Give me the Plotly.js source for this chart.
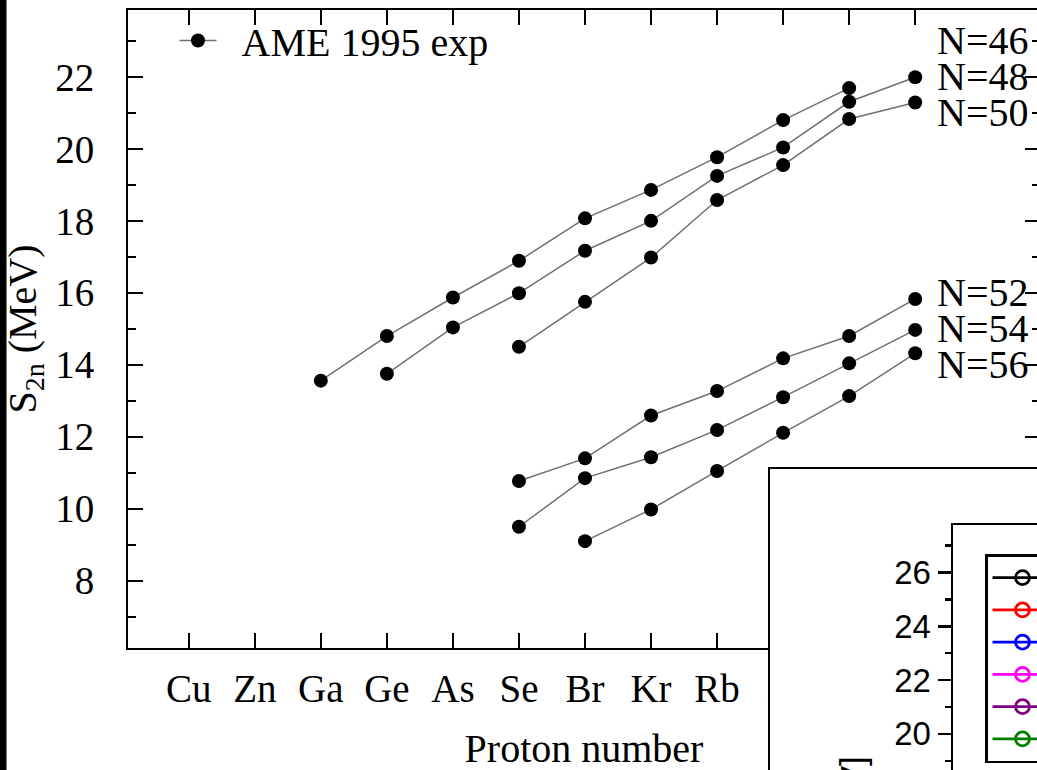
<!DOCTYPE html>
<html><head><meta charset="utf-8">
<script src="https://cdn.plot.ly/plotly-3.0.1.min.js"></script>
<style>
html,body{margin:0;padding:0;overflow:hidden;background:#fff}
#wrap{width:1037px;height:770px;overflow:hidden;position:relative}
#chart{width:1060px;height:900px}
</style>
</head><body><div id="wrap"><div id="chart"></div></div>
<script>
// ---- data ----
const elements = ['Cu','Zn','Ga','Ge','As','Se','Br','Kr','Rb','Sr','Y','Zr'];
const protonNumbers = [29,30,31,32,33,34,35,36,37,38,39,40];

const zN46 = [31,32,33,34,35,36,37,38,39];
const s2nN46 = [13.56,14.80,15.87,16.89,18.07,18.86,19.77,20.80,21.69];
const zN48 = [32,33,34,35,36,37,38,39,40];
const s2nN48 = [13.75,15.04,15.99,17.17,18.00,19.25,20.04,21.31,21.99];
const zN50 = [34,35,36,37,38,39,40];
const s2nN50 = [14.50,15.75,16.98,18.58,19.55,20.83,21.29];
const zN52 = [34,35,36,37,38,39,40];
const s2nN52 = [10.77,11.40,12.59,13.27,14.18,14.80,15.83];
const zN54 = [34,35,36,37,38,39,40];
const s2nN54 = [9.50,10.85,11.43,12.19,13.10,14.04,14.97];
const zN56 = [35,36,37,38,39,40];
const s2nN56 = [9.10,9.98,11.05,12.11,13.13,14.32];

const chainLabels = ['N=46','N=48','N=50','N=52','N=54','N=56'];
const legendName = '\u00a0\u00a0AME 1995 exp';

// inset: only the legend symbols are visible, the data lie outside the crop (unknown)
const insetNames = ['Series 1','Series 2','Series 3','Series 4','Series 5','Series 6'];
const insetColors = ['#000000','#ff0000','#0000ff','#ff00ff','#800080','#008000'];
const unknown = [null];

// ---- layout helpers ----
const W = 1060, H = 900;
const px = x => x / W;
const py = y => 1 - y / H;
const labelAnchorY = [23,22,21,16,15,14];
const serif = 'Liberation Serif, Times New Roman, serif';
const sans = 'Liberation Sans, Arial, sans-serif';

const chains = [[zN46,s2nN46],[zN48,s2nN48],[zN50,s2nN50],[zN52,s2nN52],[zN54,s2nN54],[zN56,s2nN56]];
const traces = chains.map((c,i) => ({
  x: c[0], y: c[1], type: 'scatter', mode: 'lines+markers',
  name: legendName, legendgroup: 'ame', showlegend: i === 0,
  line: {color: '#707070', width: 1.5},
  marker: {color: '#000', size: 14},
  xaxis: 'x', yaxis: 'y', legend: 'legend'
}));
// frame of the inset picture
traces.push({x: unknown, y: unknown, type: 'scatter', mode: 'markers', showlegend: false,
  xaxis: 'x2', yaxis: 'y2', hoverinfo: 'skip'});
insetNames.forEach((n,i) => traces.push({
  x: unknown, y: unknown, type: 'scatter', mode: 'lines+markers', name: n,
  xaxis: 'x3', yaxis: 'y3', legend: 'legend2',
  line: {color: insetColors[i], width: 2.8},
  marker: {color: insetColors[i], size: 14, symbol: 'circle-open', line: {color: insetColors[i], width: 2.8}}
}));

const annotations = chainLabels.map((t,i) => ({
  xref: 'x', yref: 'y', x: 40.3, y: labelAnchorY[i], text: t, showarrow: false,
  xanchor: 'left', yanchor: 'middle', font: {family: serif, size: 40, color: '#000'}
}));
annotations.push({
  xref: 'paper', yref: 'paper', x: px(855), y: py(754), text: 'S<sub>2n</sub> [MeV]',
  textangle: -90, showarrow: false, xanchor: 'center', yanchor: 'top',
  font: {family: sans, size: 35, color: '#000'}
});

const layout = {
  width: W, height: H,
  margin: {l: 0, r: 0, t: 0, b: 0, autoexpand: false},
  paper_bgcolor: '#fff', plot_bgcolor: '#fff',
  font: {family: serif, color: '#000'},
  xaxis: {
    domain: [px(128), px(1040)], range: [28.08, 41.89], anchor: 'y',
    tickvals: protonNumbers, ticktext: elements,
    ticks: 'inside', ticklen: 15, tickwidth: 2, tickcolor: '#000',
    showline: true, linewidth: 2, linecolor: '#000', mirror: 'ticks',
    showgrid: false, zeroline: false, automargin: false,
    tickfont: {family: serif, size: 39, color: '#000'}, ticklabelstandoff: 5,
    title: {text: 'Proton number', font: {family: serif, size: 40, color: '#000'}, standoff: 25}
  },
  yaxis: {
    domain: [py(648), py(10)], range: [6.13, 23.86], anchor: 'x',
    tick0: 0, dtick: 2,
    ticks: 'inside', ticklen: 15, tickwidth: 2, tickcolor: '#000',
    minor: {tick0: 0, dtick: 1, ticks: 'inside', ticklen: 8, tickwidth: 2, tickcolor: '#000', showgrid: false},
    showline: true, linewidth: 2, linecolor: '#000', mirror: 'ticks',
    showgrid: false, zeroline: false, automargin: false,
    tickfont: {family: serif, size: 39, color: '#000'}, ticklabelstandoff: 24,
    title: {text: 'S<sub>2n</sub> (MeV)', font: {family: serif, size: 40, color: '#000'}, standoff: 10}
  },
  xaxis2: {
    domain: [px(770), 1], range: [0, 1], anchor: 'y2',
    showline: true, linewidth: 2, linecolor: '#000', mirror: true,
    showticklabels: false, ticks: '', showgrid: false, zeroline: false, automargin: false
  },
  yaxis2: {
    domain: [0, py(469)], range: [0, 1], anchor: 'x2',
    showline: true, linewidth: 2, linecolor: '#000', mirror: true,
    showticklabels: false, ticks: '', showgrid: false, zeroline: false, automargin: false
  },
  xaxis3: {
    domain: [px(953), 1], range: [0, 1], anchor: 'y3',
    showline: true, linewidth: 2.5, linecolor: '#000', mirror: true,
    showticklabels: false, ticks: '', showgrid: false, zeroline: false, automargin: false
  },
  yaxis3: {
    domain: [0, py(525)], range: [13.82, 27.77], anchor: 'x3',
    tick0: 0, dtick: 2, ticks: 'outside', ticklen: 13, tickwidth: 2.5, tickcolor: '#000',
    minor: {tick0: 0, dtick: 1, ticks: 'outside', ticklen: 6, tickwidth: 2.5, tickcolor: '#000', showgrid: false},
    showline: true, linewidth: 2.5, linecolor: '#000', mirror: true,
    showgrid: false, zeroline: false, automargin: false,
    tickfont: {family: sans, size: 33, color: '#000'}
  },
  legend: {
    x: px(174.5), y: py(8), xanchor: 'left', yanchor: 'top',
    bgcolor: 'rgba(0,0,0,0)', borderwidth: 0, itemwidth: 37,
    font: {family: serif, size: 40, color: '#000'}
  },
  legend2: {
    x: px(985), y: py(554), xanchor: 'left', yanchor: 'top',
    bgcolor: '#fff', bordercolor: '#000', borderwidth: 2.5, indentation: 0, itemwidth: 60,
    itemsizing: 'trace',
    font: {family: sans, size: 22.5, color: '#000'}
  },
  showlegend: true,
  annotations: annotations,
  shapes: [{
    type: 'rect', xref: 'paper', yref: 'paper', x0: 0, x1: px(6.5), y0: 0, y1: 1,
    fillcolor: '#000', line: {width: 0}, layer: 'above'
  }]
};

Plotly.newPlot('chart', traces, layout, {staticPlot: true, responsive: false});
</script>
</body></html>
